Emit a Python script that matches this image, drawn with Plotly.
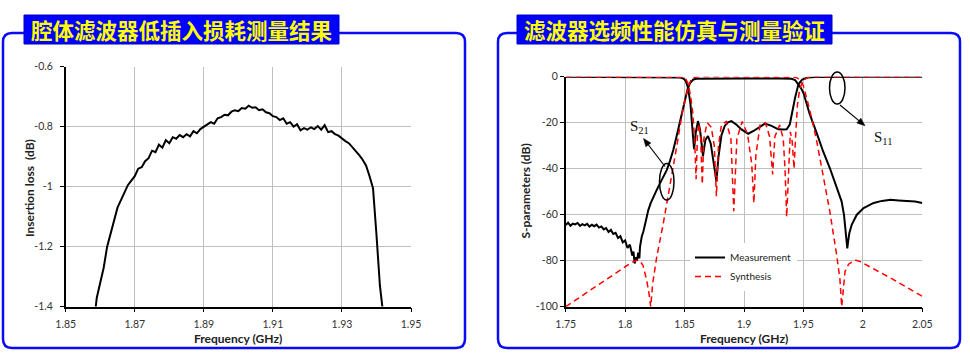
import math
import plotly.graph_objects as go

# ---------------- data: left chart (insertion loss) ----------------
il_freq = [1.8587, 1.859, 1.860, 1.861, 1.862, 1.863, 1.864, 1.865, 1.866, 1.867,
           1.868, 1.869, 1.870, 1.871, 1.872, 1.873, 1.874, 1.875, 1.876, 1.877,
           1.878, 1.879, 1.880, 1.881, 1.882, 1.883, 1.884, 1.885, 1.886, 1.887,
           1.888, 1.889, 1.890, 1.891, 1.892, 1.893, 1.894, 1.895, 1.896, 1.897,
           1.898, 1.899, 1.900, 1.901, 1.902, 1.903, 1.904, 1.905, 1.906, 1.907,
           1.908, 1.909, 1.910, 1.911, 1.912, 1.913, 1.914, 1.915, 1.916, 1.917,
           1.918, 1.919, 1.920, 1.921, 1.922, 1.923, 1.924, 1.925, 1.926, 1.927,
           1.928, 1.929, 1.930, 1.931, 1.932, 1.933, 1.934, 1.935, 1.936, 1.937,
           1.938, 1.939, 1.940, 1.941, 1.9417]
il_db = [-1.40, -1.37, -1.32, -1.27, -1.20, -1.155, -1.11, -1.07, -1.045, -1.02,
         -0.995, -0.98, -0.965, -0.94, -0.935, -0.915, -0.905, -0.88, -0.885, -0.86,
         -0.87, -0.845, -0.855, -0.835, -0.84, -0.828, -0.835, -0.825, -0.832, -0.815,
         -0.822, -0.808, -0.80, -0.795, -0.785, -0.79, -0.772, -0.768, -0.76, -0.762,
         -0.75, -0.745, -0.748, -0.738, -0.74, -0.73, -0.737, -0.735, -0.745, -0.742,
         -0.752, -0.755, -0.765, -0.768, -0.778, -0.772, -0.79, -0.785, -0.80, -0.792,
         -0.812, -0.805, -0.81, -0.802, -0.808, -0.798, -0.81, -0.795, -0.818, -0.815,
         -0.825, -0.83, -0.84, -0.848, -0.855, -0.868, -0.88, -0.895, -0.91, -0.93,
         -0.965, -1.005, -1.16, -1.33, -1.40]
il_xticks = [1.85, 1.87, 1.89, 1.91, 1.93, 1.95]
il_xtext = ["1.85", "1.87", "1.89", "1.91", "1.93", "1.95"]
il_yticks = [-1.4, -1.2, -1.0, -0.8, -0.6]
il_ytext = ["-1.4", "-1.2", "-1", "-0.8", "-0.6"]

# ---------------- data: right chart (S-parameters) ----------------
meas_s21_f = [1.750, 1.752, 1.754, 1.756, 1.758, 1.760, 1.762, 1.764, 1.766, 1.768,
              1.770, 1.772, 1.774, 1.776, 1.778, 1.780, 1.782, 1.784, 1.786, 1.788,
              1.790, 1.792, 1.794, 1.796, 1.798, 1.800, 1.802, 1.804, 1.806,
              1.807, 1.808, 1.809, 1.810, 1.811, 1.812,
              1.8125, 1.814, 1.8153, 1.8175, 1.8195, 1.8215, 1.8237, 1.8265, 1.8293, 1.832,
              1.835, 1.8378, 1.8405, 1.843, 1.8462, 1.8485, 1.8504, 1.8525, 1.8546, 1.8574,
              1.860, 1.870, 1.900, 1.930, 1.940, 1.943, 1.9458, 1.948, 1.950, 1.9551,
              1.9608, 1.9665, 1.9722, 1.9778, 1.9821, 1.9841, 1.9858, 1.9869, 1.9875, 1.9886,
              1.9906, 1.9949, 2.0006, 2.0091, 2.016, 2.0233, 2.030, 2.0375, 2.044, 2.050]
meas_s21_db = [-64.5, -63.5, -64.8, -63.9, -64.2, -63.6, -64.9, -64.1, -64.6, -64.0,
               -65.2, -64.4, -65.0, -64.3, -65.6, -65.1, -66.4, -65.8, -67.5, -66.6,
               -68.4, -67.9, -70.1, -69.3, -72.0, -71.2, -74.5, -73.0, -77.8,
               -76.0, -81.2, -78.5, -80.0, -76.5, -79.0,
               -74.0, -69.5, -67.4, -62.5, -58.0, -55.0, -52.2, -49.3, -46.4, -43.5,
               -40.6, -36.5, -31.9, -26.5, -19.0, -13.5, -9.5, -5.5, -2.8, -1.2,
               -0.9, -0.8, -0.75, -0.8, -0.9, -1.5, -3.3, -5.0, -7.0, -16.0,
               -24.0, -32.4, -39.7, -47.7, -54.2, -60.0, -70.2, -74.6, -72.0, -68.0,
               -64.4, -60.0, -57.1, -54.9, -54.0, -53.5, -53.8, -53.9, -54.3, -54.9]

meas_s11_f = [1.750, 1.800, 1.840, 1.846, 1.849, 1.851, 1.853, 1.855, 1.8565, 1.858,
              1.8595, 1.8613, 1.863, 1.8655, 1.8675, 1.8697, 1.872, 1.8745, 1.8768, 1.8785,
              1.881, 1.8838, 1.8865, 1.8894, 1.8935, 1.8979, 1.9035, 1.908, 1.912, 1.9176,
              1.9232, 1.9289, 1.933, 1.9359, 1.9385, 1.9401, 1.943, 1.9458, 1.949, 1.953,
              1.960, 2.000, 2.050]
meas_s11_db = [0, 0, -0.1, -0.3, -0.8, -1.8, -5, -12, -22, -31.5,
               -24, -19.3, -23, -34.5, -27.5, -25.8, -29, -38, -45.4, -35,
               -25.5, -21.4, -19.8, -19.3, -20.8, -22.9, -24.8, -23.6, -22.2, -20.4,
               -21.4, -22.9, -23.0, -22.9, -20.8, -16.4, -9.1, -3.3, -1.2, -0.4,
               -0.1, 0, 0]

syn_s21_f = [1.750, 1.770, 1.790, 1.806, 1.810, 1.8125, 1.815, 1.8181, 1.820, 1.8215,
             1.8232, 1.8266, 1.8321, 1.8377, 1.8434, 1.8489, 1.8531, 1.8559, 1.860, 1.865,
             1.940, 1.944, 1.946, 1.948, 1.950, 1.9551, 1.9608, 1.9665, 1.9722, 1.9778,
             1.9807, 1.9822, 1.9835, 1.985, 1.988, 1.9935, 1.9977, 2.025, 2.050]
syn_s21_db = [-100, -93, -86, -80.6, -79.8, -80.2, -82, -88.4, -94, -100,
              -89.8, -78.3, -63.8, -47.8, -30.4, -13, -4.3, -0.7, -0.1, 0,
              0, -0.3, -1.0, -2.0, -4.0, -14, -27, -42, -58.6, -77,
              -88, -100, -92, -84.7, -81.5, -79.7, -80.4, -88, -95.5]

syn_s11_f = [1.750, 1.840, 1.848, 1.851, 1.853, 1.855, 1.857, 1.8585, 1.8597, 1.8608,
             1.862, 1.8635, 1.8649, 1.8662, 1.869, 1.8725, 1.875, 1.8768, 1.8785, 1.881,
             1.885, 1.889, 1.8914, 1.894, 1.8985, 1.903, 1.9065, 1.9083, 1.910, 1.9135,
             1.918, 1.9215, 1.9241, 1.926, 1.930, 1.933, 1.9345, 1.9359, 1.9375, 1.939,
             1.9405, 1.9421, 1.9435, 1.945, 1.947, 1.950, 1.954, 1.960, 2.050]
syn_s11_db = [0, -0.1, -0.3, -1, -3, -8, -16, -28, -44.6, -26,
              -20.5, -26, -46.8, -27, -20, -22, -30, -52, -30, -21,
              -19.5, -27, -58.5, -27, -19.5, -25, -38, -55, -34, -21,
              -20, -26, -42.5, -26, -21, -27, -40, -61, -38, -24,
              -28, -40, -25, -12, -5, -1.5, -0.3, 0, 0]

sp_xticks = [1.75, 1.8, 1.85, 1.9, 1.95, 2.0, 2.05]
sp_xtext = ["1.75", "1.8", "1.85", "1.9", "1.95", "2", "2.05"]
sp_yticks = [-100, -80, -60, -40, -20, 0]
sp_ytext = ["-100", "-80", "-60", "-40", "-20", "0"]

left_title = "腔体滤波器低插入损耗测量结果"
right_title = "滤波器选频性能仿真与测量验证"
x_title = "Frequency (GHz)"
il_y_title = "Insertion loss  (dB)"
sp_y_title = "S-parameters (dB)"

# ---------------- layout helpers ----------------
W, H = 970, 363
def X(px):
    return px / W
def Y(py):
    return 1 - py / H

def rrect_path(x0, y0, x1, y1, r):
    pts = [
        ("M", [(x0 + r, y0)]), ("L", [(x1 - r, y0)]), ("Q", [(x1, y0), (x1, y0 + r)]),
        ("L", [(x1, y1 - r)]), ("Q", [(x1, y1), (x1 - r, y1)]), ("L", [(x0 + r, y1)]),
        ("Q", [(x0, y1), (x0, y1 - r)]), ("L", [(x0, y0 + r)]), ("Q", [(x0, y0), (x0 + r, y0)]),
    ]
    s = ""
    for cmd, ps in pts:
        s += cmd + " " + " ".join(f"{X(a):.5f},{Y(b):.5f}" for a, b in ps) + " "
    return s + "Z"

def arrow_shapes(tx, ty, hx, hy, head_len=8, head_half=3.2):
    dx, dy = hx - tx, hy - ty
    L = math.hypot(dx, dy)
    ux, uy = dx / L, dy / L
    nx, ny = -uy, ux
    bx, by = hx - head_len * ux, hy - head_len * uy
    line = dict(type="line", xref="paper", yref="paper",
                x0=X(tx), y0=Y(ty), x1=X(bx + 2 * ux), y1=Y(by + 2 * uy),
                line=dict(color="black", width=1.2), layer="above")
    p = (f"M {X(hx):.5f},{Y(hy):.5f} "
         f"L {X(bx + head_half * nx):.5f},{Y(by + head_half * ny):.5f} "
         f"L {X(bx - head_half * nx):.5f},{Y(by - head_half * ny):.5f} Z")
    head = dict(type="path", xref="paper", yref="paper", path=p,
                fillcolor="black", line=dict(color="black", width=0.5), layer="above")
    return [line, head]

TICKFONT = dict(family="Lato, Open Sans, sans-serif", size=10.5, color="#333333")
TITLEFONT = dict(family="Lato, Open Sans, sans-serif", size=12, color="#222222")
GRID = "#BFBFBF"

fig = go.Figure()

# left chart
fig.add_trace(go.Scatter(x=il_freq, y=il_db, mode="lines", xaxis="x", yaxis="y",
                         line=dict(color="black", width=2), showlegend=False))

# right chart: measurement (black) then synthesis (red dashed)
fig.add_trace(go.Scatter(x=meas_s21_f, y=meas_s21_db, mode="lines", xaxis="x2", yaxis="y2",
                         name="Measurement", legendgroup="m", showlegend=True,
                         line=dict(color="black", width=2)))
fig.add_trace(go.Scatter(x=meas_s11_f, y=meas_s11_db, mode="lines", xaxis="x2", yaxis="y2",
                         legendgroup="m", showlegend=False,
                         line=dict(color="black", width=2)))
fig.add_trace(go.Scatter(x=syn_s21_f, y=syn_s21_db, mode="lines", xaxis="x2", yaxis="y2",
                         name="Synthesis", legendgroup="s", showlegend=True,
                         line=dict(color="#FF0000", width=1.5, dash="6px,4px")))
fig.add_trace(go.Scatter(x=syn_s11_f, y=syn_s11_db, mode="lines", xaxis="x2", yaxis="y2",
                         legendgroup="s", showlegend=False,
                         line=dict(color="#FF0000", width=1.5, dash="6px,4px")))

axis_common = dict(showline=True, linecolor="black", linewidth=1.5, ticks="outside",
                   ticklen=4, tickcolor="black", tickwidth=1, showgrid=True,
                   gridcolor=GRID, gridwidth=1, zeroline=False, tickfont=TICKFONT,
                   fixedrange=True, automargin=False)

fig.update_layout(
    width=W, height=H, autosize=False,
    margin=dict(l=0, r=0, t=0, b=0, pad=0, autoexpand=False),
    paper_bgcolor="white", plot_bgcolor="white",
    xaxis=dict(domain=[X(65.7), X(411)], range=[1.85, 1.95], tickvals=il_xticks,
               ticktext=il_xtext, anchor="y", ticklabelstandoff=3, **axis_common),
    yaxis=dict(domain=[Y(306.7), Y(66.7)], range=[-1.4, -0.6], tickvals=il_yticks,
               ticktext=il_ytext, anchor="x", ticklabelstandoff=5, **axis_common),
    xaxis2=dict(domain=[X(565.7), X(922.3)], range=[1.75, 2.05], tickvals=sp_xticks,
                ticktext=sp_xtext, anchor="y2", ticklabelstandoff=3, **axis_common),
    yaxis2=dict(domain=[Y(306.7), Y(76.7)], range=[-100, 0], tickvals=sp_yticks,
                ticktext=sp_ytext, anchor="x2", **axis_common),
    legend=dict(x=X(690), y=Y(243), xanchor="left", yanchor="top",
                bgcolor="white", borderwidth=0, tracegroupgap=0,
                font=dict(family="Lato, Open Sans, sans-serif", size=10, color="#222222")),
)

shapes = []
# panel borders
for (x0, x1) in [(3, 465), (498, 960)]:
    shapes.append(dict(type="path", xref="paper", yref="paper",
                       path=rrect_path(x0, 33, x1, 348, 9),
                       line=dict(color="#0A0AF5", width=2.5), layer="above"))
# title boxes
for (x0, x1) in [(24, 339), (517, 832)]:
    shapes.append(dict(type="rect", xref="paper", yref="paper",
                       x0=X(x0), x1=X(x1), y0=Y(44), y1=Y(15),
                       fillcolor="#0000FF", line=dict(color="#0000C8", width=1), layer="above"))
# ellipses
shapes.append(dict(type="circle", xref="paper", yref="paper",
                   x0=X(659.5), x1=X(674), y0=Y(200), y1=Y(163.5),
                   line=dict(color="black", width=1.5), layer="above"))
shapes.append(dict(type="circle", xref="paper", yref="paper",
                   x0=X(829.5), x1=X(845), y0=Y(104), y1=Y(72),
                   line=dict(color="black", width=1.5), layer="above"))
# arrows
shapes += arrow_shapes(665, 166.5, 643.5, 138.5)
shapes += arrow_shapes(840, 105, 865, 125.7)
fig.update_layout(shapes=shapes)

def label(text, px, py, angle=0, font=TITLEFONT):
    return dict(text=text, x=X(px), y=Y(py), xref="paper", yref="paper",
                showarrow=False, xanchor="center", yanchor="middle",
                textangle=angle, font=font)

annotations = [
    label(f"<b>{left_title}</b>", 181.5, 29.5,
          font=dict(family="Noto Sans CJK SC", size=21.5, color="#FFFF00")),
    label(f"<b>{right_title}</b>", 674.5, 29.5,
          font=dict(family="Noto Sans CJK SC", size=21.5, color="#FFFF00")),
    label(f"<b>{x_title}</b>", 238.4, 338),
    label(f"<b>{x_title}</b>", 744, 338),
    label(f"<b>{il_y_title}</b>", 29, 188, angle=-90),
    label(f"<b>{sp_y_title}</b>", 525, 191.5, angle=-90),
    label("S<sub>21</sub>", 639, 127,
          font=dict(family="Liberation Serif", size=15, color="#111111")),
    label("S<sub>11</sub>", 883, 138,
          font=dict(family="Liberation Serif", size=15, color="#111111")),
]
fig.update_layout(annotations=annotations)

fig.write_html("out.html", config={"displayModeBar": False},
               post_script="document.body.style.margin='0';document.body.style.padding='0';")
